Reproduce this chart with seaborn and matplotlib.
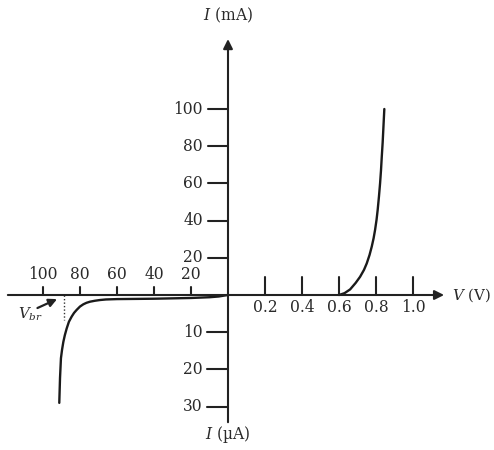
import numpy as np
import pandas as pd
import matplotlib
matplotlib.use("Agg")
import matplotlib.pyplot as plt
import seaborn as sns

# ================= DATA =================
# forward bias: voltage (V) vs current (mA)
fwd_v = [0.60, 0.63, 0.66, 0.69, 0.714, 0.735, 0.75, 0.765, 0.777, 0.787,
         0.795, 0.803, 0.809, 0.816, 0.822, 0.827, 0.831, 0.836, 0.840, 0.845]
fwd_i = [0.0, 1.0, 3.0, 6.5, 9.8, 13.5, 17.0, 21.5, 26.0, 30.5,
         35.0, 40.5, 45.7, 53.0, 60.0, 67.0, 74.0, 82.0, 90.0, 100.0]

# reverse bias: voltage (V) vs current (uA), both negative
rev_v = [0, -2, -5, -10, -20, -40, -60, -66, -69.2, -72, -74.6, -76.5, -78.2,
         -80, -81.8, -83.2, -84.5, -86, -87.2, -88.2, -89, -89.7, -90.3, -90.8,
         -91.2]
rev_i = [0, -0.15, -0.4, -0.6, -0.8, -1.0, -1.1, -1.2, -1.35, -1.55, -1.8,
         -2.1, -2.5, -3.1, -4.0, -4.8, -5.8, -7.2, -9.0, -10.8, -12.6, -14.7,
         -17.0, -22.3, -29.0]

pos_x_ticks = [0.2, 0.4, 0.6, 0.8, 1.0]
neg_x_ticks = [-100, -80, -60, -40, -20]
pos_y_ticks = [20, 40, 60, 80, 100]
neg_y_ticks = [-10, -20, -30]
v_breakdown = -88.6
v_breakdown_i = -6.7


# each quadrant has its own scale, so map everything to common plot units
def xu(v):
    v = np.asarray(v, dtype=float)
    return np.where(v >= 0, v / 0.2, v / 20.0)


def yu(i):
    i = np.asarray(i, dtype=float)
    return np.where(i >= 0, i / 20.0, i / 10.0)


curve = pd.concat([
    pd.DataFrame({"x": xu(rev_v), "y": yu(rev_i), "part": "reverse"}),
    pd.DataFrame({"x": xu(fwd_v), "y": yu(fwd_i), "part": "forward"}),
])

# ================= STYLE =================
sns.set_style("white")
plt.rcParams["font.family"] = ["DejaVu Serif"]
plt.rcParams["mathtext.fontset"] = "dejavuserif"
fs = 11.2
ink = "#222222"
txt = "#2a2a2a"

fig = plt.figure(figsize=(4.94, 4.50), dpi=100)
ax = fig.add_axes([0, 0, 1, 1])
ax.set_xlim(-228 / 37.0, (494 - 228) / 37.0)
ax.set_ylim(-(450 - 295) / 37.2, 295 / 37.2)
ax.axis("off")

# ================= AXES =================
ax.annotate("", xy=(5.84, 0), xytext=(-5.95, 0),
            arrowprops=dict(arrowstyle="-|>", color=ink, lw=1.5,
                            mutation_scale=14, shrinkA=0, shrinkB=0))
ax.annotate("", xy=(0, 6.88), xytext=(0, -3.42),
            arrowprops=dict(arrowstyle="-|>", color=ink, lw=1.5,
                            mutation_scale=14, shrinkA=0, shrinkB=0))

# ticks + labels
for t in pos_x_ticks:
    x = float(xu(t))
    ax.plot([x, x], [0, 0.48], color=ink, lw=1.5)
    ax.text(x, -0.1, f"{t:.1f}", ha="center", va="top", fontsize=fs, color=txt)
for t in neg_x_ticks:
    x = float(xu(t))
    ax.plot([x, x], [0, 0.22], color=ink, lw=1.5)
    ax.text(x, 0.31, f"{-t}", ha="center", va="bottom", fontsize=fs, color=txt)
for t in pos_y_ticks:
    y = float(yu(t))
    ax.plot([-0.55, 0], [y, y], color=ink, lw=1.5)
    ax.text(-0.68, y, f"{t}", ha="right", va="center", fontsize=fs, color=txt)
for t in neg_y_ticks:
    y = float(yu(t))
    ax.plot([-0.57, 0], [y, y], color=ink, lw=1.5)
    ax.text(-0.68, y, f"{-t}", ha="right", va="center", fontsize=fs, color=txt)

# ================= CURVE =================
sns.lineplot(data=curve, x="x", y="y", units="part", estimator=None,
             sort=False, color="#1a1a1a", lw=1.7, ax=ax, legend=False)

# breakdown marker
bx = float(xu(v_breakdown))
ax.plot([bx, bx], [0, float(yu(v_breakdown_i))], color="#333333",
        lw=1.0, ls=(0, (1, 1.5)))
ax.annotate("", xy=(bx - 0.19, -0.11), xytext=(bx - 0.72, -0.35),
            arrowprops=dict(arrowstyle="-|>", color=ink, lw=1.6,
                            mutation_scale=12, shrinkA=0, shrinkB=0))
ax.text(bx - 0.92, -0.53, r"$V_{br}$", ha="center", va="center",
        fontsize=fs - 0.5, color=txt)

# axis titles
ax.text(0.0, 7.53, r"$I$ (mA)", ha="center", va="center", fontsize=fs,
        color=txt)
ax.text(-0.02, -3.76, r"$I$ (µA)", ha="center", va="center", fontsize=fs,
        color=txt)
ax.text(6.05, 0.0, r"$V$ (V)", ha="left", va="center", fontsize=fs - 0.4,
        color=txt)

fig.savefig("out.png", dpi=100)
